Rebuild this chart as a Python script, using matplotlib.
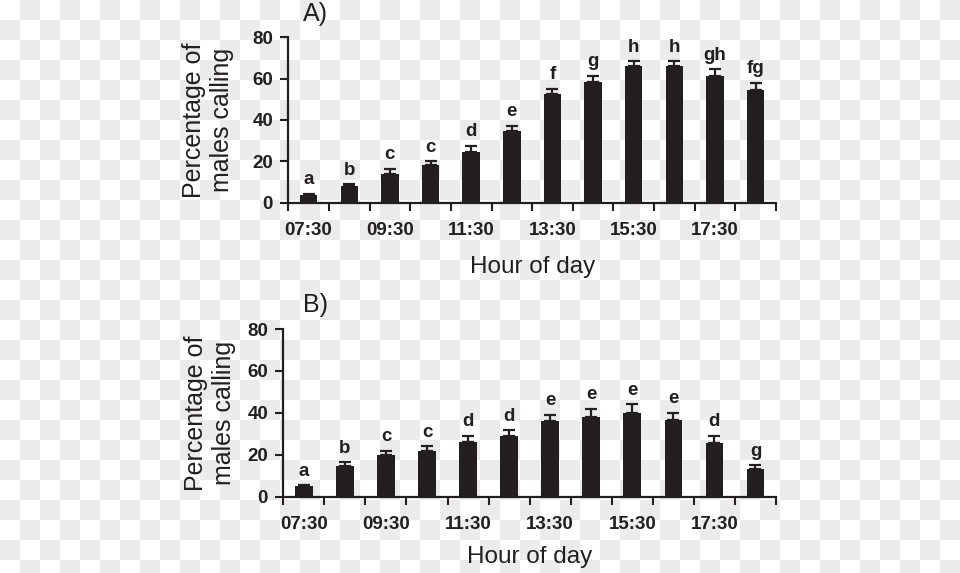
import matplotlib.pyplot as plt
import numpy as np

plt.rcParams['font.family'] = ['Liberation Sans', 'DejaVu Sans']

# hourly observation times, label every second one
hours = ['07:30', '08:30', '09:30', '10:30', '11:30', '12:30',
         '13:30', '14:30', '15:30', '16:30', '17:30', '18:30']
shown_hours = hours[::2]

# panel A
pct_a = [3.5, 8, 14, 18, 24.5, 34.5, 52.5, 58.5, 66, 66, 61.5, 54.5]
err_a = [0.8, 1, 2.5, 2, 3, 2.7, 2.7, 3, 2.5, 2.5, 3, 3.5]
letters_a = ['a', 'b', 'c', 'c', 'd', 'e', 'f', 'g', 'h', 'h', 'gh', 'fg']

# panel B
pct_b = [5, 14.5, 20, 22, 26, 29, 36, 38, 40, 36.5, 25.5, 13]
err_b = [0.5, 2, 2, 2, 3, 2.7, 3, 4, 4, 3.5, 3.5, 2]
letters_b = ['a', 'b', 'c', 'c', 'd', 'd', 'e', 'e', 'e', 'e', 'd', 'g']

W, H = 960, 573
ink = '#231f20'

fig = plt.figure(figsize=(W / 100, H / 100), dpi=100)

# checkered backdrop like the source image
rows, cols = np.indices((H, W))
board = np.where(((rows // 20) + (cols // 20)) % 2 == 1, 0.925, 1.0)
fig.figimage(np.dstack([board] * 3), xo=0, yo=0, origin='upper', zorder=-10)


def panel(rect, vals, errs, letters, tag, tag_y, label_x, xlab_y):
    ax = fig.add_axes(rect)
    ax.patch.set_alpha(0)
    x = np.arange(len(vals))
    ax.bar(x, vals, width=0.43, color=ink, zorder=2)
    ax.errorbar(x, vals, yerr=[np.zeros(len(errs)), errs], fmt='none',
                ecolor=ink, elinewidth=1.6, capsize=4.5, capthick=1.6, zorder=3)
    for xi, v, e, s in zip(x, vals, errs, letters):
        ax.annotate(s, (xi, v + e), xytext=(0, 4), textcoords='offset points',
                    ha='center', va='bottom', fontsize=13.5, fontweight='bold',
                    color=ink)

    ax.set_xlim(-0.5, len(vals) - 0.5)
    ax.set_ylim(0, 80)
    ax.set_yticks([0, 20, 40, 60, 80])
    ax.set_xticks(np.arange(-0.5, len(vals), 1))
    ax.set_xticklabels([])
    ax.set_xticks(np.arange(0, len(vals), 2), minor=True)
    ax.set_xticklabels(shown_hours, minor=True, fontweight='bold')
    for t in ax.get_yticklabels():
        t.set_fontweight('bold')
    ax.tick_params(axis='x', which='major', length=6, width=1.5, color=ink)
    ax.tick_params(axis='x', which='minor', length=0, pad=14,
                   labelsize=13.5, labelcolor=ink)
    ax.tick_params(axis='y', length=6, width=1.5, pad=5,
                   labelsize=13.5, color=ink, labelcolor=ink)
    for side in ['top', 'right']:
        ax.spines[side].set_visible(False)
    for side in ['left', 'bottom']:
        ax.spines[side].set_linewidth(1.6)
        ax.spines[side].set_color(ink)

    cy = rect[1] + rect[3] / 2
    fig.text(label_x, cy, 'Percentage of\nmales calling', rotation=90,
             ha='center', va='center', multialignment='center',
             fontsize=18, color=ink, linespacing=1.2)
    fig.text(rect[0] + rect[2] / 2, xlab_y, 'Hour of day',
             ha='center', va='center', fontsize=17.5, color=ink)
    fig.text(303 / W, tag_y, tag, ha='left', va='center', fontsize=18, color=ink)
    return ax


panel([288.3 / W, 1 - 202.7 / H, 487.7 / W, 165.4 / H],
      pct_a, err_a, letters_a, 'A)', 1 - 14 / H, 208 / W, 1 - 267 / H)
panel([283.3 / W, 1 - 496.7 / H, 492.7 / W, 167.7 / H],
      pct_b, err_b, letters_b, 'B)', 1 - 305 / H, 210 / W, 1 - 557 / H)

fig.savefig('out.png', dpi=100)
